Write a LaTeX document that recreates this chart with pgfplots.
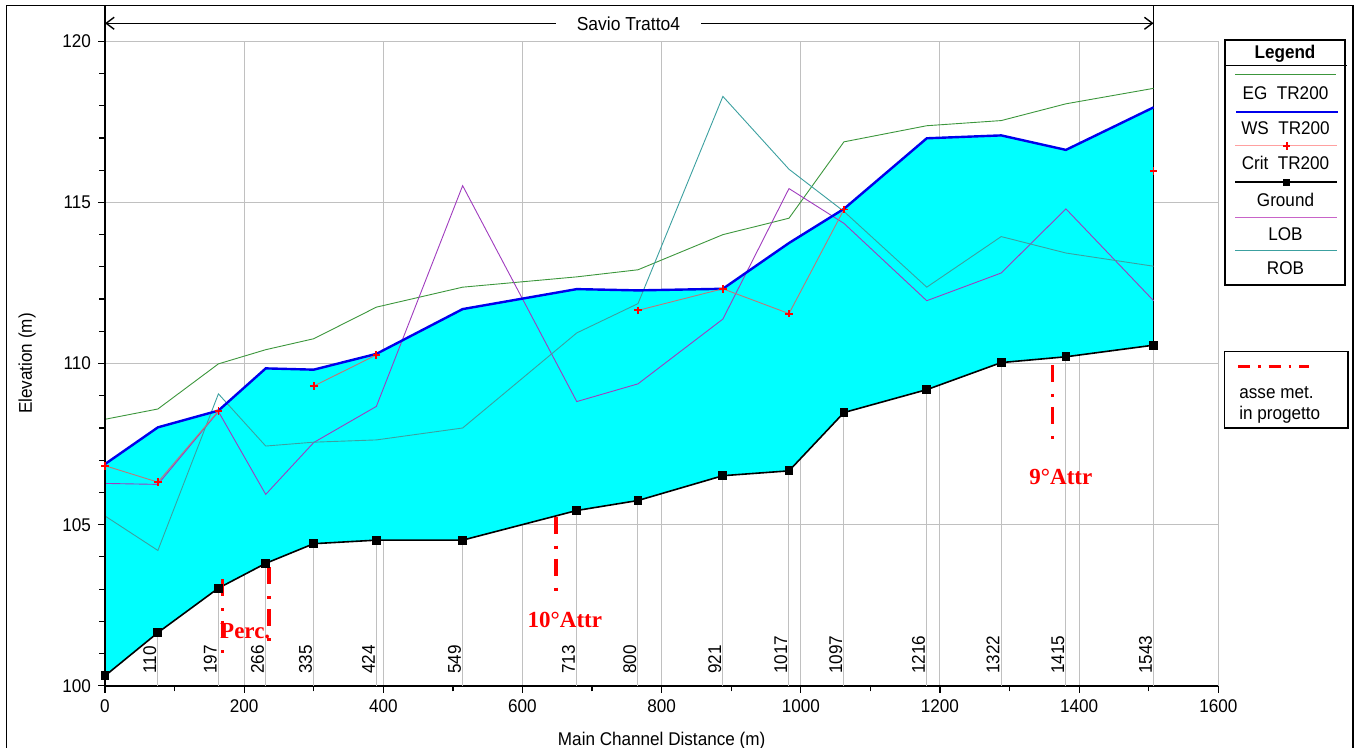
\documentclass[border=0pt]{standalone}
\usepackage{fontspec}
\setmainfont{Liberation Sans}[FakeStretch=0.93]
\newfontfamily\annfont{Liberation Serif}
\usepackage{pgfplots}
\pgfplotsset{compat=1.18}
\usepackage{pgfplotstable}
\usepgfplotslibrary{fillbetween}
\usetikzlibrary{arrows.meta}

\definecolor{egc}{RGB}{60,150,60}
\definecolor{lobc}{RGB}{160,60,190}
\definecolor{robc}{RGB}{60,160,160}
\definecolor{critc}{RGB}{190,120,120}
\definecolor{gridc}{RGB}{192,192,192}
\definecolor{fillc}{RGB}{0,255,255}
\definecolor{wsc}{RGB}{0,0,235}
\definecolor{pinkc}{RGB}{255,160,160}
\definecolor{loblc}{RGB}{200,100,200}

\pgfplotstableread{
dist ground ws crit eg lob rob
0 100.31 106.88 106.83 108.27 106.28 105.27
76 101.65 108.02 106.32 108.59 106.25 104.20
163 103.03 108.54 108.53 109.99 108.51 109.06
231 103.80 109.85 nan 110.43 105.94 107.44
300 104.41 109.81 109.30 110.77 107.55 107.56
390 104.52 110.30 110.27 111.75 108.67 107.63
514 104.52 111.69 nan 112.37 115.52 108.00
678 105.44 112.31 nan 112.69 108.82 110.95
766 105.75 112.27 111.65 112.91 109.37 111.86
888 106.52 112.32 112.32 114.00 111.38 118.29
983 106.67 113.74 111.55 114.51 115.43 116.03
1062 108.48 114.80 114.78 116.88 114.35 114.72
1181 109.19 116.99 nan 117.38 111.95 112.37
1288 110.03 117.08 nan 117.54 112.81 113.94
1381 110.21 116.63 nan 118.06 114.80 113.43
1507 110.57 117.95 115.97 118.54 111.95 113.02
}\profile

\pgfplotstableread{
dist ylab sta
76 100.33 110
163 100.33 197
231 100.33 266
300 100.33 335
390 100.33 424
514 100.33 549
678 100.33 713
766 100.33 800
888 100.33 921
983 100.33 1017
1062 100.33 1097
1181 100.33 1216
1288 100.33 1322
1381 100.33 1415
1507 100.33 1543
}\stations

\newcommand{\lblfont}{\fontsize{9.2}{11}\selectfont}
\newcommand{\annf}{\annfont\bfseries\fontsize{11.5}{13}\selectfont}

\begin{document}
\begin{tikzpicture}[font=\lblfont]
% right end of the reach: vertical line from the frame down to the ground
\begin{scope}[x=0.5pt,y=-0.5pt]
\draw[line width=0.7pt] (1153.6,5.7) -- (1153.6,345.2);
\end{scope}

\begin{axis}[
  at={(52.5pt,-342.9pt)}, anchor=south west,
  width=556.65pt, height=322.25pt, scale only axis,
  xmin=0, xmax=1600, ymin=100, ymax=120,
  xtick={0,200,...,1600}, ytick={100,105,...,120},
  minor x tick num=1, minor y tick num=4,
  axis x line*=bottom, axis y line*=left,
  axis line style={line width=0.9pt, -},
  tick align=outside,
  major tick length=3.5pt, minor tick length=2.8pt,
  every tick/.style={black, line width=0.6pt},
  grid=major, major grid style={gridc, line width=0.5pt},
  /pgf/number format/assume math mode=true,
  /pgf/number format/1000 sep={},
  ticklabel style={font=\lblfont},
  xlabel={Main Channel Distance (m)}, ylabel={Elevation (m)},
  label style={font=\lblfont},
  xlabel style={at={(rel axis cs:0.5,-0.0715)}, anchor=north, inner sep=0pt},
  ylabel style={at={(rel axis cs:-0.062,0.5)}, anchor=south, inner sep=0pt},
]
\addplot[name path=gr, draw=none] table[x=dist,y=ground]{\profile};
\addplot[name path=ws, draw=none] table[x=dist,y=ws]{\profile};
\addplot[fill=fillc, draw=none] fill between[of=ws and gr];
\addplot[ycomb, gridc, line width=0.5pt] table[x=dist,y=ground]{\profile};
\addplot[egc, line width=0.45pt] table[x=dist,y=eg]{\profile};
\addplot[lobc, line width=0.45pt] table[x=dist,y=lob]{\profile};
\addplot[robc, line width=0.45pt] table[x=dist,y=rob]{\profile};
\addplot[wsc, line width=1.2pt] table[x=dist,y=ws]{\profile};
\addplot[critc, line width=0.45pt, mark=+, mark size=1.9pt, mark options={red, line width=0.9pt}, unbounded coords=jump] table[x=dist,y=crit]{\profile};
\addplot[black, line width=0.8pt, mark=square*, mark size=1.8pt] table[x=dist,y=ground]{\profile};
\addplot[draw=none, mark=none, nodes near coords, point meta=explicit symbolic,
  every node near coord/.style={rotate=90, anchor=south west, inner sep=0.6pt, font=\lblfont, black}]
  table[x=dist,y=ylab,meta=sta]{\stations};
% left axis redraw over the fill
\draw[black, line width=0.9pt] (rel axis cs:0,0) -- (rel axis cs:0,1);
% design axes (red dash-dot)
\begin{scope}[red, line width=1.8pt, dash pattern=on 8.5pt off 6pt on 1.5pt off 5pt]
\draw (axis cs:169,103.31) -- (axis cs:169,100.96);
\draw (axis cs:236,103.68) -- (axis cs:236,101.34);
\draw (axis cs:648,105.25) -- (axis cs:648,102.92);
\draw (axis cs:1361.5,109.96) -- (axis cs:1361.5,107.63);
\end{scope}
\node[red, font=\annf, anchor=base] at (axis cs:201.5,101.47) {Perc.};
\node[red, font=\annf, anchor=base] at (axis cs:660.9,101.80) {10°Attr};
\node[red, font=\annf, anchor=base] at (axis cs:1373.8,106.26) {9°Attr};
\end{axis}

\begin{scope}[x=0.5pt,y=-0.5pt]
% outer frame
\draw[line width=0.7pt] (6.7,800) -- (6.7,5.7) -- (1353,5.7) -- (1353,800);
% axis extension to the frame
\draw[line width=0.9pt] (105,5.7) -- (105,41.3);
% reach annotation
\draw[line width=0.7pt, {Straight Barb[length=4pt,width=6pt]}-{Straight Barb[length=4pt,width=6pt]}] (105,23.3) -- (1153.6,23.3)
  node[pos=0.4992, fill=white, inner xsep=10.5pt, inner ysep=1pt, font=\fontsize{9.4}{11}\selectfont] {Savio Tratto4};
% legend box
\draw[line width=0.8pt] (1224.7,40) rectangle (1345,285);
\draw[line width=0.8pt] (1224.7,65.7) -- (1346.7,65.7);
\node[anchor=base, font=\bfseries\lblfont] at (1285,58.3) {Legend};
\draw[egc, line width=0.5pt] (1235,74.3) -- (1336,74.3);
\node[anchor=base] at (1285.5,100) {EG\ \ TR200};
\draw[wsc, line width=1.1pt] (1236,111.7) -- (1338,111.7);
\node[anchor=base] at (1285.5,135) {WS\ \ TR200};
\draw[pinkc, line width=0.5pt] (1235,146) -- (1337,146);
\draw[red, line width=0.9pt] (1283,146) -- (1290.4,146) (1286.7,142.3) -- (1286.7,149.7);
\node[anchor=base] at (1285.5,169.7) {Crit\ \ TR200};
\draw[black, line width=0.9pt] (1235,182.3) -- (1337,182.3);
\fill[black] (1282.5,178.8) rectangle (1289.5,185.8);
\node[anchor=base] at (1285.5,206.7) {Ground};
\draw[loblc, line width=0.5pt] (1235,217.3) -- (1337,217.3);
\node[anchor=base] at (1285.5,240.7) {LOB};
\draw[robc, line width=0.5pt] (1235,250.7) -- (1337,250.7);
\node[anchor=base] at (1285.5,275) {ROB};
% second legend box
\draw[line width=0.8pt] (1224.3,351.7) rectangle (1347.7,428.3);
\draw[red, line width=1.5pt, dash pattern=on 6pt off 4pt on 1.2pt off 4pt] (1238.3,366.7) -- (1309.3,366.7);
\node[anchor=base west, inner sep=0pt] at (1239,398.3) {asse met.};
\node[anchor=base west, inner sep=0pt] at (1239,420) {in progetto};
\end{scope}
\pgfresetboundingbox
\path[use as bounding box] (0pt,0pt) rectangle (678.5pt,-374pt);
\end{tikzpicture}
\end{document}
